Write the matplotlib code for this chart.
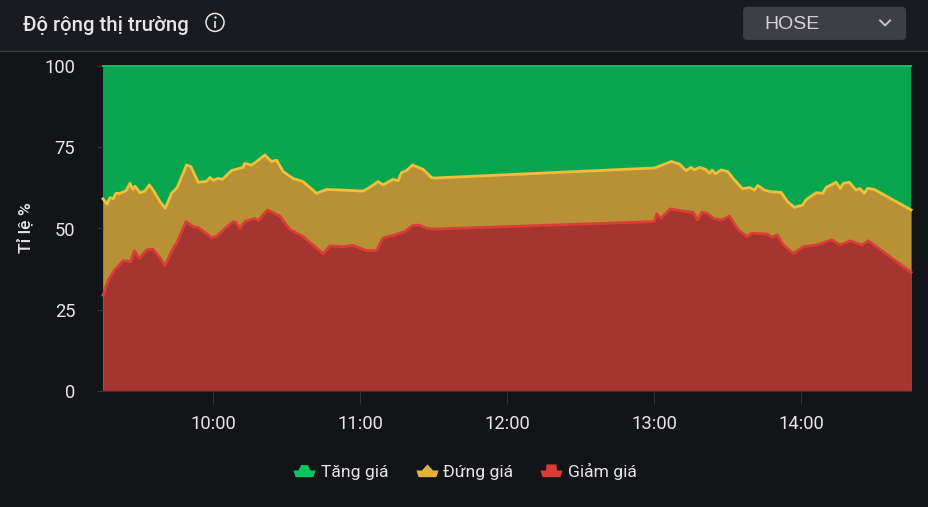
import matplotlib
matplotlib.use("Agg")
import matplotlib.pyplot as plt
from matplotlib.lines import Line2D
from matplotlib.patches import Circle, FancyBboxPatch, Rectangle
from matplotlib.path import Path

plt.rcParams["font.family"] = ["Roboto", "DejaVu Sans"]

# minutes after 9:00, the session pauses from 11:30 to 13:00
flat_times = [15, 16.6, 17.9, 19.2, 20.3, 21.9, 24.4, 26, 27.1, 28.1, 30.1, 32.1, 33.9, 35.5, 38.3, 40.4,
              43, 45.3, 49.1, 50.9, 53.9, 57.3, 58.7, 60, 62, 63.8, 67.5, 72.2, 72.9, 75.7, 78.4, 81.1,
              83.8, 85.9, 88.6, 92.6, 96.7, 102.2, 106.3, 112.9, 121.1, 123.9, 127.3, 129.4, 133.4, 135.5,
              136.9, 138.9, 141.4, 145.7, 149.1, 150, 240, 241, 247.1, 250.4, 253.1, 255.2, 256.5, 258.6,
              261, 262.7, 263.8, 265.1, 267.4, 270.1, 272.9, 276.2, 279, 281, 282.4, 285.1, 287.8, 291.9,
              294.6, 297.3, 300.7, 302.1, 306.2, 308.9, 310.3, 314.4, 316.1, 317.3, 319.8, 322.5, 324.1,
              325.9, 327.2, 330, 345]
flat_level = [59.1, 57.5, 59.5, 59.2, 60.8, 60.8, 61.6, 63.9, 62, 63, 61, 61.5, 63.4, 61.8, 58.2, 56.2,
              60.8, 62.6, 69.5, 69, 64.2, 64.5, 65.7, 64.8, 65.4, 65.1, 67.8, 68.8, 70, 69.5, 71, 72.6,
              70.6, 71, 67.5, 65.4, 64.4, 60.8, 62, 61.8, 61.5, 62.6, 64.4, 63.4, 65.1, 64.7,
              67.2, 67.8, 69.5, 68.2, 65.7, 65.5, 68.6, 68.8, 70.6, 69.8, 67.8, 68.8, 68, 68.8,
              68.2, 67, 68, 66.8, 68, 67.5, 64.9, 62.2, 62.6, 61.8, 63.2, 61.8, 61.3, 61.1,
              58.2, 56.5, 57.2, 58.8, 61, 60.8, 62.6, 64.2, 62.3, 63.9, 64.2, 61.8, 62.3,
              60.8, 62.3, 62, 55.7]

down_times = [15, 17.2, 19.9, 23.3, 26.3, 27.8, 29.8, 32.8, 35.5, 37.8, 40.3, 43, 45.3, 48.9, 51.8, 53.9,
              59.3, 61.4, 64.8, 68.2, 69.3, 70.9, 72.9, 77, 78.4, 82.2, 87.2, 91.3, 96.7, 104.9, 107.6,
              113, 117.1, 122.6, 126.7, 129.2, 134.1, 138.2, 141.6, 144.3, 147.1, 150, 240, 241.2, 242.8,
              246.7, 250.7, 256.1, 257.8, 259.6, 261.6, 264.3, 267.7, 270.8, 274.5, 278, 280, 286.1, 288.2,
              290.4, 292.9, 297, 301, 306.5, 312.6, 316, 320.2, 324.9, 327.6, 345]
down_level = [29.5, 34.2, 37.4, 40.1, 39.8, 43.1, 40.8, 43.4, 43.6, 41.5, 38.5, 42.9, 45.9, 52.1, 50.6, 50.3,
              47.2, 47.5, 50, 52.1, 51.8, 50, 52.1, 53.1, 52.4, 55.7, 53.8, 49.7, 47.5, 42.2, 44.6,
              44.4, 44.8, 43.2, 43.2, 47, 48, 49, 51, 51, 50, 49.8, 52.1, 54.5, 53.1,
              56, 55.5, 54.9, 52.6, 55, 54.7, 53.1, 52.6, 53.8, 49.5, 47.5, 48.5, 48.3, 47.3,
              48, 44.9, 42.3, 44.4, 44.9, 46.5, 44.9, 46.2, 44.9, 46.2, 36.5]

up_times = [15, 345]
up_level = [100, 100]

tick_minutes = [60, 120, 180, 240, 300]
tick_labels = ["10:00", "11:00", "12:00", "13:00", "14:00"]
y_ticks = [0, 25, 50, 75, 100]
legend_names = ["Tăng giá", "Đứng giá", "Giảm giá"]

W, H = 928, 507
BG = "#131417"
HEADER = "#1a1b20"
TEXT = "#e6e6e6"

fig = plt.figure(figsize=((W + 0.1) / 100, (H + 0.1) / 100), dpi=100, facecolor=BG)

# header strip and its controls, laid out in pixels
ui = fig.add_axes([0, 0, 1, 1], zorder=0)
ui.set_xlim(0, W)
ui.set_ylim(H, 0)
ui.axis("off")
ui.add_patch(Rectangle((0, 0), W, 51, color=HEADER, lw=0))
ui.plot([0, W], [51.5, 51.5], color="#3b3b3e", lw=1)
ui.text(23, 25, "Độ rộng thị trường", color=TEXT, fontsize=14.6, fontweight="medium", va="center")
ui.add_patch(Circle((215, 22.5), 9, fill=False, ec=TEXT, lw=1.1))
ui.plot([215, 215], [21.5, 28], color=TEXT, lw=1.2, solid_capstyle="butt")
ui.plot([215], [17.5], "o", color=TEXT, ms=1.7, mew=0)
ui.add_patch(FancyBboxPatch((746, 10), 157, 27, boxstyle="round,pad=3,rounding_size=4", fc="#3e3e45", ec="none"))
ui.text(764, 24.5, "HOSE", color="#d2d2d6", fontsize=14, family="Liberation Sans", va="center")
ui.plot([880, 885, 890], [20.5, 25.5, 20.5], color="#c4c4c8", lw=1.4)
ui.text(25, 228, "Tỉ lệ %", color=TEXT, fontsize=12.6, fontweight="medium", rotation=90, ha="center", va="center")

ax = fig.add_axes([103 / W, (H - 391) / H, 808 / W, 325 / H], zorder=1)
ax.patch.set_alpha(0)

# layered from the top band down, each fill reaching the baseline
ax.fill_between(up_times, 0, up_level, color="#08a550", lw=0)
ax.plot(up_times, up_level, color="#12c060", lw=1.4, clip_on=False)
ax.fill_between(flat_times, 0, flat_level, color="#b89136", lw=0)
ax.plot(flat_times, flat_level, color="#efc03c", lw=2.0, clip_on=False, solid_joinstyle="round")
ax.fill_between(down_times, 0, down_level, color="#a4362f", lw=0)
ax.plot(down_times, down_level, color="#d93f36", lw=2.0, clip_on=False, solid_joinstyle="round")

ax.set_xlim(15, 345)
ax.set_ylim(0, 100)
ax.set_xticks(tick_minutes, tick_labels)
ax.set_yticks(y_ticks)
ax.tick_params(axis="x", length=9.4, width=0.8, color="#333438", pad=7.5, labelcolor=TEXT, labelsize=13.2)
ax.tick_params(axis="y", length=4.5, width=0.8, color="#333438", pad=15.5, labelcolor=TEXT, labelsize=13.2)
for side in ["top", "right", "left"]:
    ax.spines[side].set_visible(False)
ax.spines["bottom"].set_color("#333438")
ax.spines["bottom"].set_linewidth(0.8)

# legend keys: flat wings under a coloured cap
def key_marker(cap):
    return Path([(-1, 0)] + cap + [(1, 0), (0.8, -0.6), (-0.8, -0.6), (-1, 0)])

up_key = key_marker([(-0.55, 0), (-0.3, 0.5), (0.3, 0.5), (0.55, 0)])
flat_key = key_marker([(-0.5, 0), (0, 0.55), (0.5, 0)])
down_key = key_marker([(-0.5, 0), (-0.45, 0.55), (0.45, 0.55), (0.5, 0)])
handles = [
    Line2D([], [], ls="none", marker=up_key, ms=16, mfc="#0cc45f", mec="none"),
    Line2D([], [], ls="none", marker=flat_key, ms=16, mfc="#e0b13f", mec="none"),
    Line2D([], [], ls="none", marker=down_key, ms=16, mfc="#d83c36", mec="none"),
]
fig.legend(handles, legend_names, loc="center", bbox_to_anchor=(464 / W, (H - 471) / H), ncol=3, frameon=False,
           labelcolor=TEXT, fontsize=12.6, handletextpad=0.2, columnspacing=1.42, handlelength=1.5)

fig.savefig("out.png", dpi=100, facecolor=BG)
